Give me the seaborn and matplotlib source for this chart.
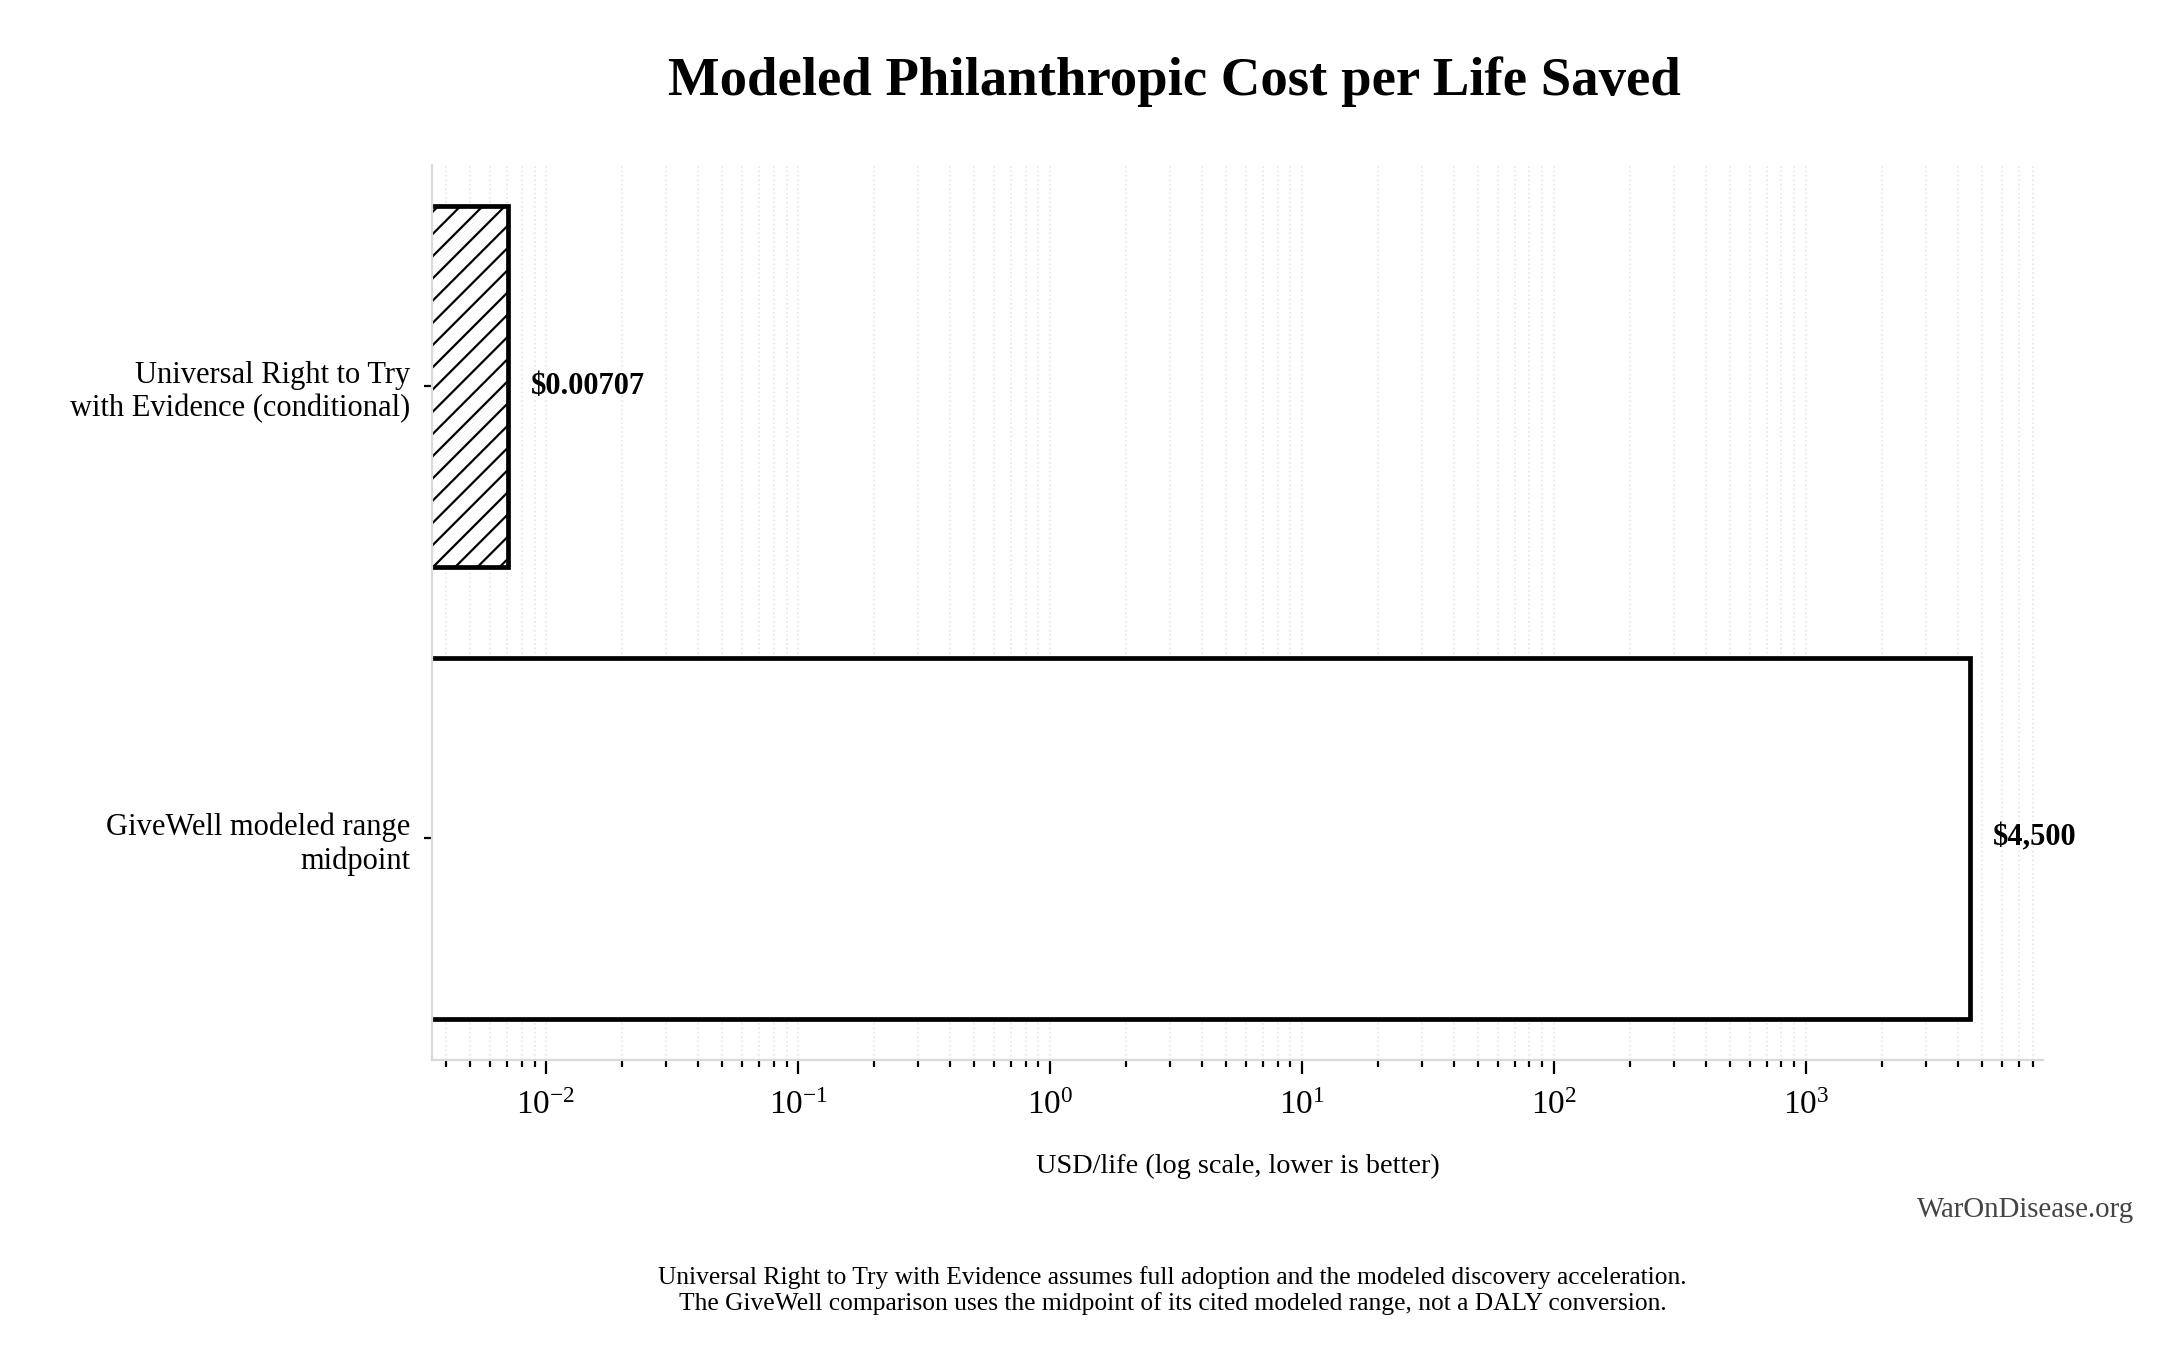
import numpy as np
import pandas as pd
import matplotlib
matplotlib.use('Agg')
import matplotlib.pyplot as plt
import seaborn as sns

# данные
categories = ['Universal Right to Try\nwith Evidence (conditional)',
              'GiveWell modeled range\nmidpoint']
cost_per_life = [0.00707, 4500]
value_labels = ['$0.00707', '$4,500']
hatches = ['///', '']

df = pd.DataFrame({'category': categories, 'cost': cost_per_life})

sns.set_theme(style='white')
plt.rcParams['font.family'] = ['Liberation Serif', 'DejaVu Serif']
plt.rcParams['mathtext.fontset'] = 'stix'
plt.rcParams['hatch.linewidth'] = 0.8
plt.rcParams['text.color'] = 'black'
plt.rcParams['axes.labelcolor'] = 'black'
plt.rcParams['xtick.color'] = 'black'
plt.rcParams['ytick.color'] = 'black'

fig = plt.figure(figsize=(10.835, 6.82), dpi=200)
ax = fig.add_axes([0.1995, 0.223, 0.7435, 0.656])
ax.set_xscale('log')

sns.barplot(data=df, x='cost', y='category', orient='h', width=0.8,
            color='white', edgecolor='black', linewidth=1.7, ax=ax)

for bar, h in zip(ax.patches, hatches):
    bar.set_hatch(h)
    bar.set_facecolor('white')
    bar.set_edgecolor('black')

ax.set_xlim(min(cost_per_life) / 2, max(cost_per_life) * 1.95)
ax.set_ylim(1.49, -0.49)

for i, (v, lab) in enumerate(zip(cost_per_life, value_labels)):
    ax.annotate(lab, xy=(v, i), xytext=(8, 0), textcoords='offset points',
                ha='left', va='center', fontsize=11, fontweight='bold')

ax.grid(True, which='both', axis='x', color='#e6e6e6', linestyle=':', linewidth=0.6)
ax.set_axisbelow(True)
for s in ['top', 'right']:
    ax.spines[s].set_visible(False)
for s in ['left', 'bottom']:
    ax.spines[s].set_color('#d9d9d9')
    ax.spines[s].set_linewidth(0.8)

ax.tick_params(axis='x', which='major', length=5, width=0.8, color='black',
               labelsize=12, pad=6, bottom=True)
ax.tick_params(axis='x', which='minor', length=2.5, width=0.8, color='black', bottom=True)
ax.tick_params(axis='y', length=3, width=0.8, color='black', labelsize=11, pad=5, left=True)
for t in ax.get_yticklabels():
    t.set_horizontalalignment('right')
    t.set_multialignment('right')

ax.set_ylabel('')
ax.set_xlabel('USD/life (log scale, lower is better)', fontsize=10.2, labelpad=12)

fig.text(0.542, 0.94, 'Modeled Philanthropic Cost per Life Saved',
         ha='center', va='center', fontsize=19.7, fontweight='bold')
fig.text(0.985, 0.113, 'WarOnDisease.org', ha='right', va='center',
         fontsize=10.4, color='#444444')
fig.text(0.541, 0.054,
         'Universal Right to Try with Evidence assumes full adoption and the modeled discovery acceleration.\n'
         'The GiveWell comparison uses the midpoint of its cited modeled range, not a DALY conversion.',
         ha='center', va='center', fontsize=9.2, linespacing=1.15)

fig.savefig('out.png', dpi=200, facecolor='white')
